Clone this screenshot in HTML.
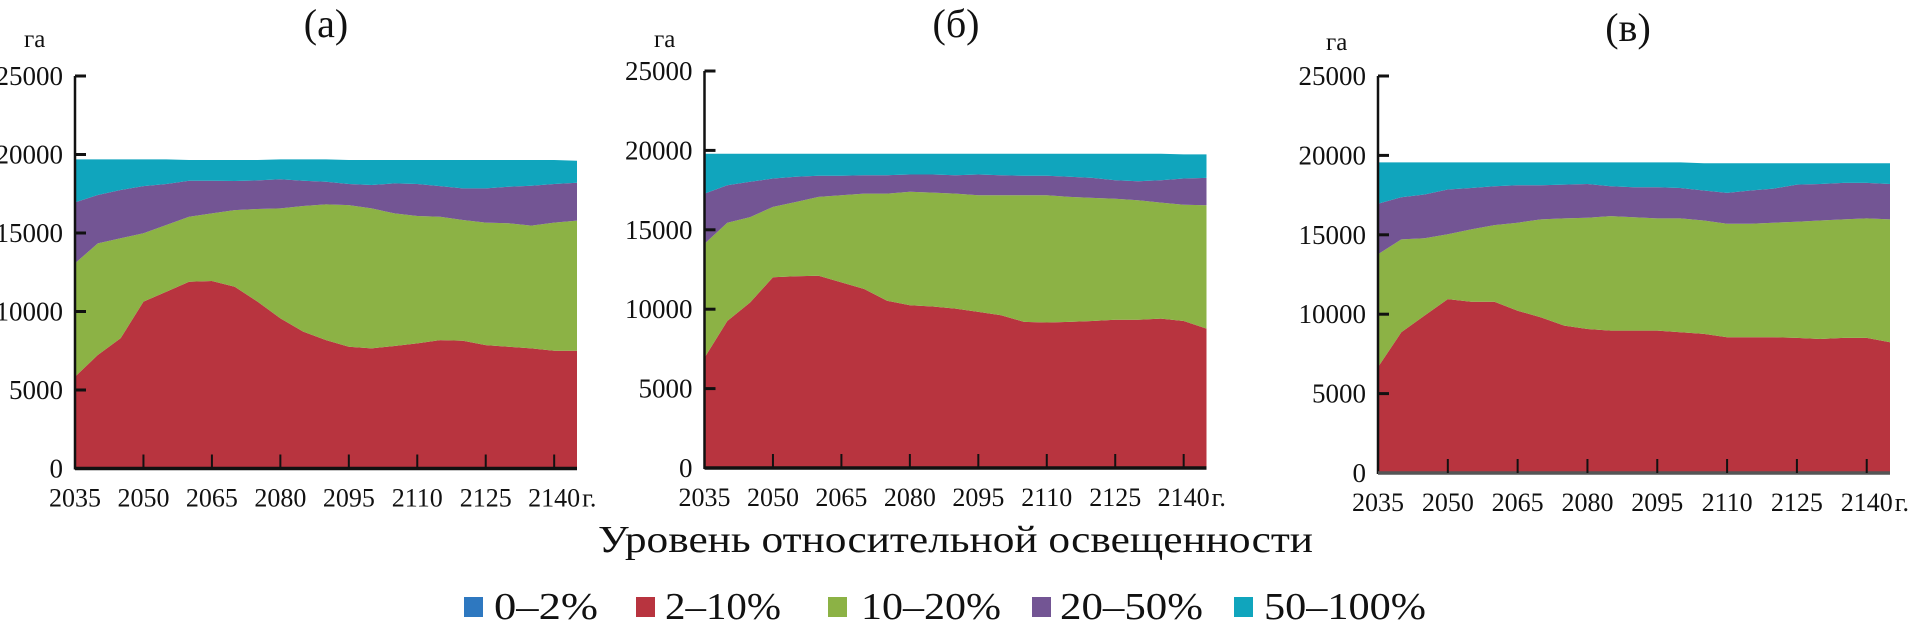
<!DOCTYPE html>
<html><head><meta charset="utf-8"><style>
html,body{margin:0;padding:0;background:#fff;}
svg{display:block;font-family:"Liberation Serif",serif;}
</style></head><body>
<svg id="chart" width="1915" height="633" viewBox="0 0 1915 633" xmlns="http://www.w3.org/2000/svg">
<g id="panels"></g>
<text x="598" y="552" font-size="38" textLength="715" lengthAdjust="spacingAndGlyphs" fill="#111">Уровень относительной освещенности</text>
<g id="legend"></g>
</svg>
<script>
const years = [2035,2040,2045,2050,2055,2060,2065,2070,2075,2080,2085,2090,2095,2100,2105,2110,2115,2120,2125,2130,2135,2140,2145];
const tickYears = [2035,2050,2065,2080,2095,2110,2125,2140];
const yTicks = [0,5000,10000,15000,20000,25000];
const seriesNames = ["0–2%","2–10%","10–20%","20–50%","50–100%"];
const seriesColors = ["#2e78c0","#b8343f","#8cb245","#735594","#10a5bd"];
const panelTitles = ["(а)","(б)","(в)"];

const zeros = [0,0,0,0,0,0,0,0,0,0,0,0,0,0,0,0,0,0,0,0,0,0,0];
const aRed = [5850,7230,8290,10630,11260,11900,11940,11580,10630,9560,8720,8180,7760,7650,7800,7970,8180,8140,7860,7760,7650,7500,7500];
const aGreen = [7220,7110,6370,4350,4250,4140,4310,4880,5900,7010,8000,8640,9020,8920,8450,8110,7860,7690,7800,7860,7820,8160,8290];
const aPurple = [3880,3080,3080,3010,2610,2290,2080,1850,1820,1850,1610,1450,1340,1490,1910,2040,1950,2010,2180,2330,2540,2460,2410];
const aTeal = [2740,2270,1950,1700,1570,1320,1320,1340,1300,1270,1360,1420,1530,1590,1490,1530,1660,1810,1810,1700,1640,1530,1400];

const bRed = [6940,9260,10420,12010,12070,12110,11690,11270,10530,10250,10170,10040,9830,9620,9200,9160,9200,9260,9330,9330,9410,9260,8780];
const bGreen = [7180,6190,5380,4430,4680,4960,5490,6010,6750,7140,7170,7240,7350,7560,7980,8020,7870,7750,7630,7530,7300,7320,7760];
const bPurple = [3160,2360,2220,1790,1590,1330,1220,1160,1160,1090,1140,1160,1300,1260,1220,1220,1270,1260,1160,1200,1410,1650,1730];
const bTeal = [2510,1980,1770,1560,1450,1390,1390,1350,1350,1310,1310,1350,1310,1350,1390,1390,1450,1520,1670,1730,1670,1520,1480];

const cRed = [6670,8860,9910,10950,10780,10780,10220,9800,9280,9070,8970,8970,8970,8860,8760,8550,8550,8550,8510,8440,8510,8510,8230];
const cGreen = [7100,5850,4870,4080,4560,4830,5540,6170,6750,7000,7210,7140,7060,7170,7140,7150,7150,7210,7310,7460,7460,7520,7740];
const cPurple = [3180,2660,2760,2820,2610,2450,2360,2150,2130,2130,1880,1880,1960,1920,1890,1940,2090,2150,2340,2300,2300,2240,2230];
const cTeal = [2610,2190,2020,1710,1610,1500,1440,1440,1400,1360,1500,1570,1570,1610,1710,1860,1710,1590,1340,1300,1230,1230,1300];

const panelData = [
  [zeros,aRed,aGreen,aPurple,aTeal],
  [zeros,bRed,bGreen,bPurple,bTeal],
  [zeros,cRed,cGreen,cPurple,cTeal]
];

const NS = "http://www.w3.org/2000/svg";
function mk(tag, attrs, parent){
  const e = document.createElementNS(NS, tag);
  for (const k in attrs) e.setAttribute(k, attrs[k]);
  parent.appendChild(e);
  return e;
}
const layouts = [
  {x0:75, x1:577, y0:468.5, yTop:76, title:[326,37], unit:[24,47], base:"#111"},
  {x0:704.5, x1:1206.5, y0:468, yTop:71, title:[956,37], unit:[654,47], base:"#111"},
  {x0:1378, x1:1890, y0:473, yTop:76, title:[1628,41], unit:[1326,50], base:"#555"}
];
const panelsG = document.getElementById('panels');
layouts.forEach((L, p) => {
  const g = mk('g', {}, panelsG);
  
  
  const xs = yr => L.x0 + (yr - years[0]) / (years[years.length-1] - years[0]) * (L.x1 - L.x0);
  const ys = v => L.y0 - v / 25000 * (L.y0 - L.yTop);
  const data = panelData[p];
  let cum = years.map(() => 0);
  data.forEach((ser, s) => {
    const lower = cum.slice();
    cum = cum.map((c, i) => c + ser[i]);
    let d = '';
    years.forEach((yr, i) => { d += (i ? 'L' : 'M') + xs(yr).toFixed(1) + ',' + ys(cum[i]).toFixed(1); });
    for (let i = years.length - 1; i >= 0; i--) d += 'L' + xs(years[i]).toFixed(1) + ',' + ys(lower[i]).toFixed(1);
    d += 'Z';
    const path = mk('path', {d: d, fill: seriesColors[s]}, g);
    
    
  });
  const ya = mk('line', {x1:L.x0, x2:L.x0, y1:L.yTop, y2:L.y0+1, stroke:'#111', 'stroke-width':2.5}, g);
  
  
  const xa = mk('line', {x1:L.x0, x2:L.x1, y1:L.y0, y2:L.y0, stroke:L.base, 'stroke-width':3.5}, g);
  
  
  yTicks.forEach(v => {
    const y = ys(v);
    if (v > 0) mk('line', {x1:L.x0, x2:L.x0+11, y1:y, y2:y, stroke:'#111', 'stroke-width':3}, g);
    const t = mk('text', {x:L.x0-12, y:y+9, 'font-size':27, 'text-anchor':'end', fill:'#111'}, g);
    t.textContent = String(v);
    
    
  });
  tickYears.forEach((yr, k) => {
    const x = xs(yr);
    if (k > 0) mk('line', {x1:x, x2:x, y1:L.y0, y2:L.y0-14, stroke:'#111', 'stroke-width':2}, g);
    const t = mk('text', {x:x, y:L.y0+38, 'font-size':26, 'text-anchor':'middle', fill:'#111'}, g);
    t.textContent = String(yr);
    
    
    if (k === tickYears.length - 1) {
      const u = mk('text', {x:x+28, y:L.y0+38, 'font-size':26, fill:'#111'}, g);
      u.textContent = 'г.';
      
      
    }
  });
  const tt = mk('text', {x:L.title[0], y:L.title[1], 'font-size':40, 'text-anchor':'middle', fill:'#111'}, g);
  tt.textContent = panelTitles[p];
  
  
  const un = mk('text', {x:L.unit[0], y:L.unit[1], 'font-size':25, fill:'#111'}, g);
  un.textContent = 'га';
  
  
});
const legSquares = [464,636,828,1032,1234];
const legText = [[494,104],[665,116],[861,140],[1060,143],[1264,162]];
const legG = document.getElementById('legend');
seriesNames.forEach((n, i) => {
  const r = mk('rect', {x:legSquares[i], y:597, width:19, height:20, fill:seriesColors[i]}, legG);
  
  
  const t = mk('text', {x:legText[i][0], y:619, 'font-size':38, textLength:legText[i][1], lengthAdjust:'spacingAndGlyphs', fill:'#111'}, legG);
  t.textContent = n;
  
  
});
</script>
</body></html>
